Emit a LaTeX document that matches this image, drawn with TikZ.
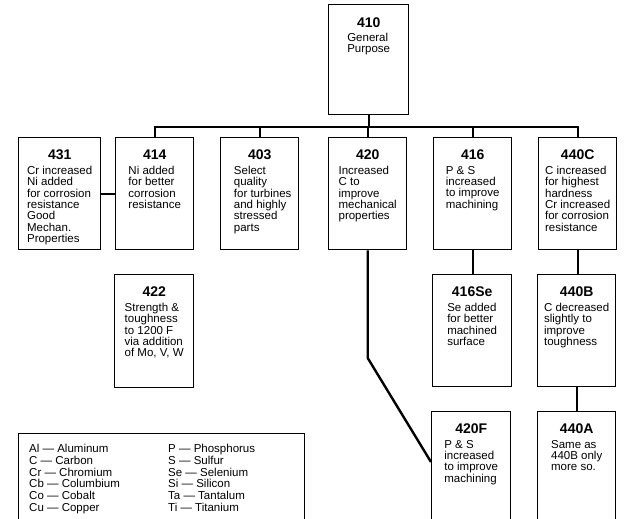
\documentclass[tikz,border=0pt]{standalone}
\usepackage{fontspec}
\setmainfont{Liberation Sans}
\begin{document}
\begin{tikzpicture}[x=1pt,y=-1pt,
  box/.style={draw, line width=1.4pt, inner sep=0pt, anchor=north west},
  ttl/.style={font=\fontsize{14}{14}\selectfont\bfseries, inner sep=0pt},
  body/.style={font=\fontsize{11.5}{11.3}\selectfont, align=left, inner sep=0pt, anchor=north},
  conn/.style={line width=2.4pt},
  legtext/.style={font=\fontsize{11.5}{11.8}\selectfont, align=left, inner sep=0pt, anchor=north west}]
\clip (0,0) rectangle (640,519);
\useasboundingbox (0,0) rectangle (640,519);

% boxes
\node[box, minimum width=80pt, minimum height=110pt] (b410) at (328,4) {};
\node[box, minimum width=82pt, minimum height=112pt] (b431) at (18,137) {};
\node[box, minimum width=78pt, minimum height=112pt] (b414) at (115,137) {};
\node[box, minimum width=78pt, minimum height=112pt] (b403) at (220,137) {};
\node[box, minimum width=78pt, minimum height=112pt] (b420) at (328,137) {};
\node[box, minimum width=78pt, minimum height=112pt] (b416) at (433,137) {};
\node[box, minimum width=78pt, minimum height=112pt] (b440C) at (538,137) {};
\node[box, minimum width=79pt, minimum height=113pt] (b422) at (114,274) {};
\node[box, minimum width=79pt, minimum height=112pt] (b416Se) at (432,274) {};
\node[box, minimum width=78pt, minimum height=112pt] (b440B) at (537,274) {};
\node[box, minimum width=79pt, minimum height=130pt] (b420F) at (431,411) {};
\node[box, minimum width=78pt, minimum height=130pt] (b440A) at (537,411) {};
\node[box, minimum width=286pt, minimum height=120pt] (leg) at (18,433) {};

% titles
\node[ttl] at ([yshift=-19pt]b410.north) {410};
\node[ttl] at ([yshift=-18pt]b431.north) {431};
\node[ttl] at ([yshift=-18pt]b414.north) {414};
\node[ttl] at ([yshift=-18pt]b403.north) {403};
\node[ttl] at ([yshift=-18pt]b420.north) {420};
\node[ttl] at ([yshift=-18pt]b416.north) {416};
\node[ttl] at ([yshift=-18pt]b440C.north) {440C};
\node[ttl] at ([yshift=-18pt]b422.north) {422};
\node[ttl] at ([yshift=-18pt]b416Se.north) {416Se};
\node[ttl] at ([yshift=-18pt]b440B.north) {440B};
\node[ttl] at ([yshift=-18pt]b420F.north) {420F};
\node[ttl] at ([yshift=-18pt]b440A.north) {440A};

% bodies
\node[body] at ([yshift=-29pt]b410.north) {General\\Purpose};
\node[body] at ([yshift=-29pt]b431.north) {Cr increased\\Ni added\\for corrosion\\resistance\\Good\\Mechan.\\Properties};
\node[body] at ([yshift=-29pt]b414.north) {Ni added\\for better\\corrosion\\resistance};
\node[body] at ([xshift=3pt,yshift=-29pt]b403.north) {Select\\quality\\for turbines\\and highly\\stressed\\parts};
\node[body] at ([yshift=-29pt]b420.north) {Increased\\C to\\improve\\mechanical\\properties};
\node[body] at ([yshift=-29pt]b416.north) {P \& S\\increased\\to improve\\machining};
\node[body] at ([yshift=-29pt]b440C.north) {C increased\\for highest\\hardness\\Cr increased\\for corrosion\\resistance};
\node[body] at ([yshift=-29pt]b422.north) {Strength \&\\toughness\\to 1200 F\\via addition\\of Mo, V, W};
\node[body] at ([yshift=-29pt]b416Se.north) {Se added\\for better\\machined\\surface};
\node[body] at ([yshift=-29pt]b440B.north) {C decreased\\slightly to\\improve\\toughness};
\node[body] at ([yshift=-29pt]b420F.north) {P \& S\\increased\\to improve\\machining};
\node[body] at ([yshift=-29pt]b440A.north) {Same as\\440B only\\more so.};

% legend
\node[legtext] (legA) at (29,444) {Al --- Aluminum\\C --- Carbon\\Cr --- Chromium\\Cb --- Columbium\\Co --- Cobalt\\Cu --- Copper};
\node[legtext] (legB) at (168,444) {P --- Phosphorus\\S --- Sulfur\\Se --- Selenium\\Si --- Silicon\\Ta --- Tantalum\\Ti --- Titanium};

% connectors
\coordinate (bus) at (0,127);
\coordinate (bend) at (0,358);
\draw[conn] (b410.south) -- (b410.south |- bus);
\draw[conn] (b414.north) -- (b414.north |- bus) -- (b440C.north |- bus) -- (b440C.north);
\draw[conn] (b403.north) -- (b403.north |- bus);
\draw[conn] (b420.north) -- (b420.north |- bus);
\draw[conn] (b416.north) -- (b416.north |- bus);
\draw[conn] (b431.east) -- (b414.west);
\draw[conn] (b416.south) -- (b416.south |- b416Se.north);
\draw[conn] (b440C.south) -- (b440C.south |- b440B.north);
\draw[conn] (b440B.south) -- (b440B.south |- b440A.north);
\draw[conn] (b420.south) -- (b420.south |- bend) -- ([yshift=-51pt]b420F.north west);
\end{tikzpicture}
\end{document}
